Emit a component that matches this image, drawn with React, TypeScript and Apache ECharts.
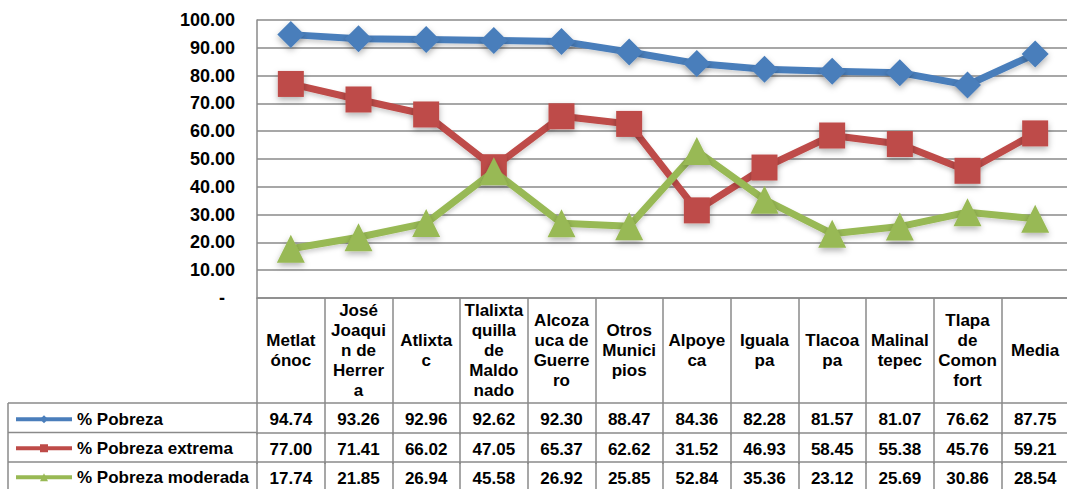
import React, { useEffect, useRef } from "react";
import * as echarts from "echarts";

const categories = [
  "Metlat\nónoc",
  "José\nJoaqui\nn de\nHerrer\na",
  "Atlixta\nc",
  "Tlalixta\nquilla\nde\nMaldo\nnado",
  "Alcoza\nuca de\nGuerre\nro",
  "Otros\nMunici\npios",
  "Alpoye\nca",
  "Iguala\npa",
  "Tlacoa\npa",
  "Malinal\ntepec",
  "Tlapa\nde\nComon\nfort",
  "Media",
];
const pobreza = [94.74, 93.26, 92.96, 92.62, 92.3, 88.47, 84.36, 82.28, 81.57, 81.07, 76.62, 87.75];
const pobrezaExtrema = [77.0, 71.41, 66.02, 47.05, 65.37, 62.62, 31.52, 46.93, 58.45, 55.38, 45.76, 59.21];
const pobrezaModerada = [17.74, 21.85, 26.94, 45.58, 26.92, 25.85, 52.84, 35.36, 23.12, 25.69, 30.86, 28.54];
const seriesNames = ["% Pobreza", "% Pobreza extrema", "% Pobreza moderada"];

const FONT = "'Liberation Sans', Arial, sans-serif";
const GRID = "#8a8a8a";
const COLORS = ["#4A7EBB", "#BE4B48", "#98B954"];

const W = 1067;
const H = 489;
const GL = 257;
const GW = 812;
const GT = 20;
const GB = 298;
const HEADER_H = 105;
const ROW_H = 29.5;
const TABLE_LEFT = 8;

export default function App() {
  const ref = useRef<HTMLDivElement>(null);
  useEffect(() => {
    if (!ref.current) return;
    const chart = echarts.init(ref.current, undefined, { renderer: "svg" });
    const rows = [pobreza, pobrezaExtrema, pobrezaModerada];
    const symbols = ["diamond", "rect", "triangle"];
    const sizes = [27, 26, 28];

    const baseX = (offset: number, tickLen: number) => ({
      type: "category" as const,
      data: categories,
      position: "bottom" as const,
      gridIndex: 0,
      offset,
      boundaryGap: true,
      axisLine: { show: true, onZero: false, lineStyle: { color: GRID, width: 1.5 } },
      axisTick: { show: true, length: tickLen, lineStyle: { color: GRID, width: 1.5 } },
      splitLine: { show: false },
    });

    const xAxes: any[] = [
      {
        ...baseX(0, HEADER_H),
        axisLabel: {
          interval: 0,
          margin: HEADER_H / 2,
          verticalAlign: "middle",
          color: "#000",
          fontFamily: FONT,
          fontWeight: "bold",
          fontSize: 17,
          lineHeight: 20,
        },
      },
    ];
    rows.forEach((row, r) => {
      xAxes.push({
        ...baseX(HEADER_H + r * ROW_H, ROW_H + 2),
        axisLabel: {
          interval: 0,
          margin: ROW_H / 2 + 2,
          verticalAlign: "middle",
          color: "#000",
          fontFamily: FONT,
          fontWeight: "bold",
          fontSize: 17,
          formatter: (_v: string, idx: number) => row[idx].toFixed(2),
        },
      });
    });

    const tableLines: any[] = [];
    tableLines.push({
      type: "line",
      shape: { x1: TABLE_LEFT, y1: GB + HEADER_H, x2: TABLE_LEFT, y2: H },
      style: { stroke: GRID, lineWidth: 1.5 },
    });
    for (let r = 0; r < 3; r++) {
      const y = GB + HEADER_H + r * ROW_H;
      tableLines.push({
        type: "line",
        shape: { x1: TABLE_LEFT, y1: y, x2: GL, y2: y },
        style: { stroke: GRID, lineWidth: 1.5 },
      });
    }

    chart.setOption({
      animation: false,
      backgroundColor: "#fff",
      grid: {
        left: GL,
        width: GW,
        top: GT,
        height: GB - GT,
        containLabel: false,
        outerBoundsMode: "none",
      },
      legend: {
        orient: "vertical",
        left: 14,
        top: GB + HEADER_H + ROW_H / 2 - 7,
        height: 120,
        itemWidth: 56,
        itemHeight: 10,
        itemGap: ROW_H - 17.5,
        padding: 0,
        data: seriesNames,
        lineStyle: { width: 4 },
        textStyle: { color: "#000", fontFamily: FONT, fontWeight: "bold", fontSize: 17, lineHeight: 16 },
      },
      xAxis: xAxes,
      yAxis: {
        type: "value",
        min: 0,
        max: 100,
        interval: 10,
        axisLine: { show: true, lineStyle: { color: GRID, width: 1.5 } },
        axisTick: { show: false },
        splitLine: { show: true, lineStyle: { color: GRID, width: 1.5 } },
        axisLabel: {
          margin: 22,
          color: "#000",
          fontFamily: FONT,
          fontWeight: "bold",
          fontSize: 18,
          formatter: (v: number) => (v === 0 ? "{d|-}" : v.toFixed(2)),
          rich: { d: { padding: [0, 10, 0, 0], fontWeight: "bold", fontSize: 18, fontFamily: FONT, color: "#000" } },
        },
      },
      series: rows.map((row, i) => ({
        name: seriesNames[i],
        type: "line",
        xAxisIndex: 0,
        data: row,
        symbol: symbols[i],
        symbolSize: sizes[i],
        color: COLORS[i],
        lineStyle: {
          width: 7,
          color: COLORS[i],
          shadowColor: "rgba(0,0,0,0.18)",
          shadowBlur: 4,
          shadowOffsetY: 3,
        },
        itemStyle: {
          color: COLORS[i],
          shadowColor: "rgba(0,0,0,0.3)",
          shadowBlur: 6,
          shadowOffsetY: 3,
        },
        z: 3 + i,
      })),
      graphic: tableLines,
    });
    return () => chart.dispose();
  }, []);
  return (
    <div
      ref={ref}
      style={{ position: "fixed", left: 0, top: 0, width: W, height: H, background: "#fff" }}
    />
  );
}
